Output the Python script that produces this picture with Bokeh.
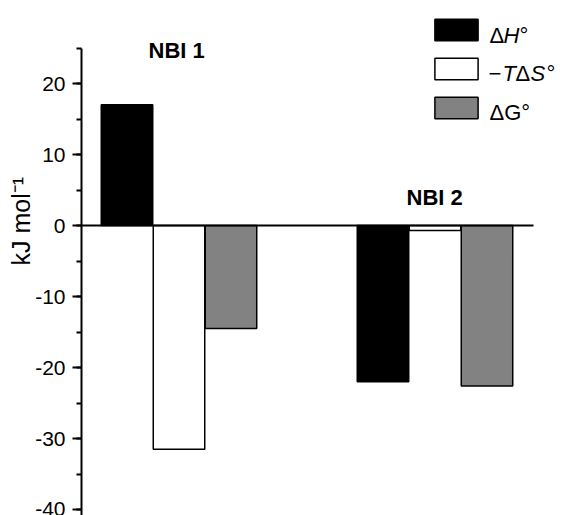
from bokeh.plotting import figure
from bokeh.models import (Range1d, SingleIntervalTicker, Label, Legend, LegendItem,
                          CustomJSTickFormatter, Title)
from bokeh.embed import file_html
from bokeh.resources import INLINE

# ---- data ----
groups = ["NBI 1", "NBI 2"]
series = ["ΔH°", "−TΔS°", "ΔG°"]
dH = [17.0, -22.0]
mTdS = [-31.5, -0.7]
dG = [-14.5, -22.6]
colors = ["#000000", "#ffffff", "#828282"]
tick_step = 10
y_title = "kJ mol⁻¹"

# ---- layout ----
W, H = 564, 515
LEFT = 81
PX_X = 52.0      # pixels per x unit (one bar width)
PX_Y = 7.1       # pixels per kJ/mol
ZERO_PY = 225
G1_PX = 178.5
x0 = (LEFT - G1_PX) / PX_X
x1 = (W - G1_PX) / PX_X
y1 = ZERO_PY / PX_Y
y0 = -(H - ZERO_PY) / PX_Y
group_x = [0.0, 256.0 / PX_X]

def dx(px):
    return (px - G1_PX) / PX_X

def dy(py):
    return (ZERO_PY - py) / PX_Y

FONT = "Liberation Sans"

p = figure(width=W, height=H, x_range=Range1d(x0, x1), y_range=Range1d(y0, y1),
           output_backend="svg", toolbar_location=None, x_axis_location=None,
           min_border_left=LEFT, min_border_right=0, min_border_top=0, min_border_bottom=0)
p.grid.visible = False
p.outline_line_color = None
p.background_fill_color = "white"
p.border_fill_color = "white"

renderers = []
for i, (vals, col) in enumerate(zip([dH, mTdS, dG], colors)):
    xs = [g + (i - 1) * 1.0 for g in group_x]
    r = p.vbar(x=xs, top=vals, bottom=0, width=0.99, fill_color=col,
               line_color="black", line_width=1.5)
    renderers.append(r)

p.line([x0, dx(533)], [0, 0], line_color="black", line_width=2)

ax = p.yaxis[0]
ax.ticker = SingleIntervalTicker(interval=tick_step, num_minor_ticks=2)
ax.formatter = CustomJSTickFormatter(code="return String(tick);")
ax.bounds = (-45, 25)
ax.axis_line_width = 2
ax.major_tick_line_width = 2
ax.minor_tick_line_width = 2
ax.major_tick_in = 0
ax.major_tick_out = 9
ax.minor_tick_in = 0
ax.minor_tick_out = 5
ax.major_label_standoff = 7
ax.major_label_text_font = FONT
ax.major_label_text_font_size = "21px"
ax.major_label_text_color = "black"

p.add_layout(Title(text=y_title, align="left", offset=250, standoff=-4,
                   text_font=FONT, text_font_size="25px", text_font_style="normal",
                   text_color="black"), "left")

legend = Legend(items=[LegendItem(label=" ", renderers=[r]) for r in renderers],
                location=(348, 394), glyph_width=54, glyph_height=27, spacing=12,
                padding=0, margin=0, border_line_alpha=0, background_fill_alpha=0,
                label_text_font_size="1px", label_standoff=0, label_width=0, label_height=27)
p.add_layout(legend)

def lab(text, px, py, size="22px", style="normal"):
    p.add_layout(Label(x=dx(px), y=dy(py), text=text, text_font=FONT, text_font_size=size,
                       text_font_style=style, text_color="black",
                       text_baseline="alphabetic", text_align="left"))

# legend texts
lab("Δ", 489, 35)
lab("H", 503, 35, style="italic")
lab("°", 519, 35)
lab("−", 488, 73)
lab("T", 502, 73, style="italic")
lab("Δ", 515, 73)
lab("S", 530, 73, style="italic")
lab("°", 546, 73)
lab("ΔG°", 489, 112)

# group labels
lab(groups[0], 148, 50, size="22px", style="bold")
lab(groups[1], 406, 197, size="22px", style="bold")

open("out.html", "w").write(file_html(p, INLINE))
